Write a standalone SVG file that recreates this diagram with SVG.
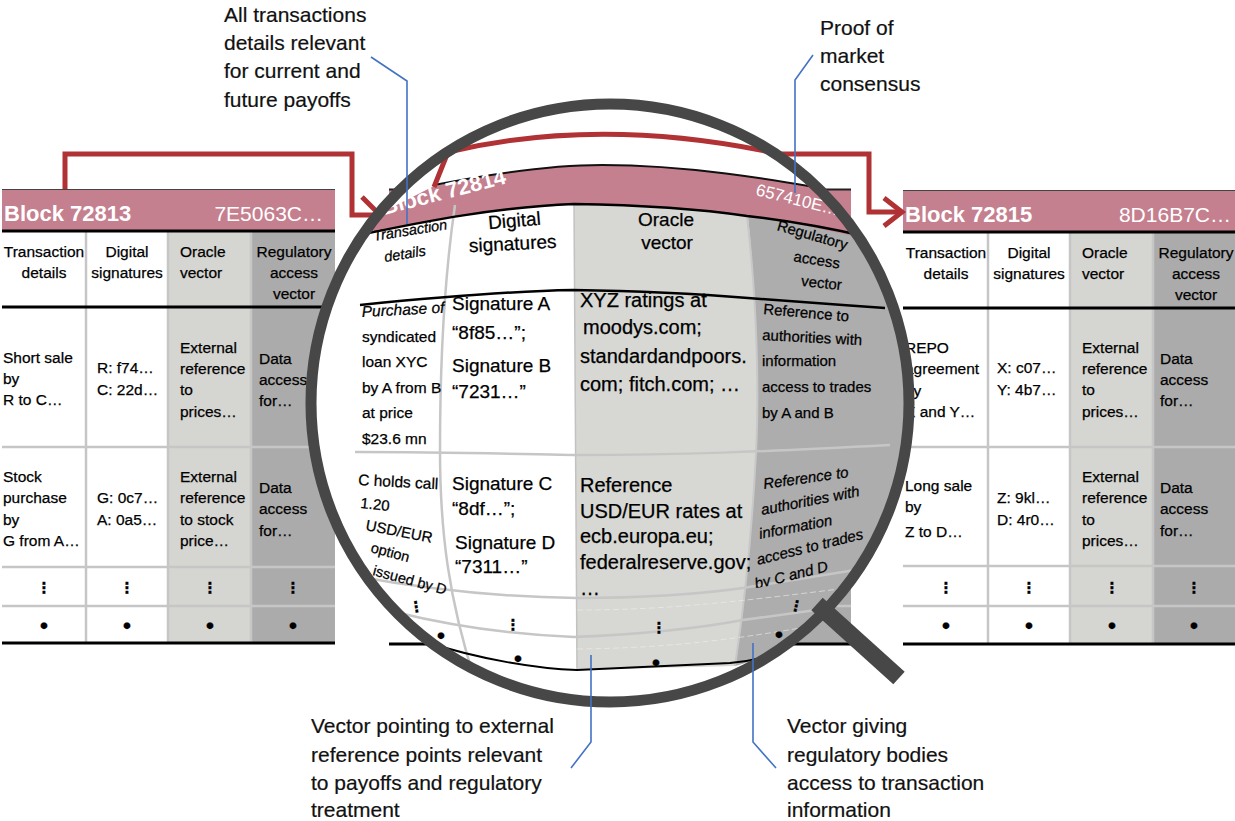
<svg xmlns="http://www.w3.org/2000/svg" width="1235" height="821" viewBox="0 0 1235 821">
<defs>
<style>
text{font-family:"Liberation Sans",Arial,sans-serif;fill:#000;stroke:#000;stroke-width:0.25px}
.tb{font-size:15.5px}
.m{text-anchor:middle}
.bh{font-size:22px;font-weight:bold;fill:#fff;stroke:none}
.bhr{font-size:21px;fill:#fff;text-anchor:end;stroke:none}
.wt{fill:#fff;stroke:none}
.dt{font-family:"DejaVu Sans",sans-serif;font-size:15px;text-anchor:middle;font-weight:bold}
.bu{font-size:24px;text-anchor:middle}
.an{font-size:21px;fill:#111;stroke:#111;stroke-width:0.2px}
.pink{fill:#C5808F}
.c3{fill:#D5D5D1}
.c4{fill:#ABABAB}
.gr{stroke:#C6C6C6;stroke-width:2.5;fill:none}
.bk{stroke:#000;stroke-width:3;fill:none}
.lead{stroke:#4472C4;stroke-width:1.6;fill:none}
.red{stroke:#B03234;stroke-width:5;fill:none}
.lt{font-size:15px}
.it{font-style:italic}
</style>
<clipPath id="lensClip"><circle cx="610" cy="403" r="296"/></clipPath>
<clipPath id="r2c4"><path d="M740,430 L900,430 L900,566 L743,590 Z"/></clipPath>
</defs>

<!-- Left block -->
<g id="block-72813">
<rect x="168" y="231" width="83" height="413" class="c3"/>
<rect x="251" y="231" width="84" height="413" class="c4"/>
<rect x="2" y="189" width="333" height="42" class="pink"/>
<line x1="2" y1="189.5" x2="335" y2="189.5" stroke="#444" stroke-width="1"/>
<g class="gr"><path d="M86,231V643M168,231V643M251,231V643"/><path d="M2,447H335M2,567H335M2,606H335"/></g>
<g class="bk"><path d="M2,231H335M2,307H335M2,643H335"/></g>
<text x="4" y="221" class="bh">Block 72813</text>
<text x="323" y="221" class="bhr">7E5063C…</text>
<text class="tb m" x="44" y="257">Transaction</text><text class="tb m" x="44" y="278">details</text>
<text class="tb m" x="127" y="257">Digital</text><text class="tb m" x="127" y="278">signatures</text>
<text class="tb" x="180" y="257">Oracle</text><text class="tb" x="180" y="278">vector</text>
<text class="tb m" x="294" y="257">Regulatory</text><text class="tb m" x="294" y="278">access</text><text class="tb m" x="294" y="299">vector</text>
<text class="tb" x="3" y="363">Short sale</text><text class="tb" x="3" y="384">by</text><text class="tb" x="3" y="405">R to C…</text>
<text class="tb" x="97" y="373">R: f74…</text><text class="tb" x="97" y="395">C: 22d…</text>
<text class="tb" x="180" y="353">External</text><text class="tb" x="180" y="374">reference</text><text class="tb" x="180" y="395">to</text><text class="tb" x="180" y="417">prices…</text>
<text class="tb" x="259" y="364">Data</text><text class="tb" x="259" y="385">access</text><text class="tb" x="259" y="406">for…</text>
<text class="tb" x="3" y="482">Stock</text><text class="tb" x="3" y="503">purchase</text><text class="tb" x="3" y="525">by</text><text class="tb" x="3" y="546">G from A…</text>
<text class="tb" x="97" y="503">G: 0c7…</text><text class="tb" x="97" y="525">A: 0a5…</text>
<text class="tb" x="180" y="482">External</text><text class="tb" x="180" y="503">reference</text><text class="tb" x="180" y="525">to stock</text><text class="tb" x="180" y="546">price…</text>
<text class="tb" x="259" y="493">Data</text><text class="tb" x="259" y="514">access</text><text class="tb" x="259" y="536">for…</text>
<text class="dt" x="44" y="593">⋮</text><text class="dt" x="127" y="593">⋮</text><text class="dt" x="210" y="593">⋮</text><text class="dt" x="293" y="593">⋮</text>
<text class="bu" x="44" y="634">•</text><text class="bu" x="127" y="634">•</text><text class="bu" x="210" y="634">•</text><text class="bu" x="293" y="634">•</text>
</g>

<!-- Right block -->
<g id="block-72815">
<rect x="1070" y="232" width="83" height="412" class="c3"/>
<rect x="1153" y="232" width="82" height="412" class="c4"/>
<rect x="903" y="190" width="332" height="42" class="pink"/>
<line x1="903" y1="190.5" x2="1235" y2="190.5" stroke="#444" stroke-width="1"/>
<g class="gr"><path d="M988,232V644M1070,232V644M1153,232V644"/><path d="M903,447H1235M903,566H1235M903,606H1235"/></g>
<g class="bk"><path d="M903,232H1235M903,308H1235M903,644H1235"/></g>
<text x="905" y="222" class="bh">Block 72815</text>
<text x="1231" y="222" class="bhr">8D16B7C…</text>
<text class="tb m" x="946" y="258">Transaction</text><text class="tb m" x="946" y="279">details</text>
<text class="tb m" x="1029" y="258">Digital</text><text class="tb m" x="1029" y="279">signatures</text>
<text class="tb" x="1082" y="258">Oracle</text><text class="tb" x="1082" y="279">vector</text>
<text class="tb m" x="1196" y="258">Regulatory</text><text class="tb m" x="1196" y="279">access</text><text class="tb m" x="1196" y="300">vector</text>
<text class="tb" x="905" y="353">REPO</text><text class="tb" x="905" y="374">agreement</text><text class="tb" x="905" y="396">by</text><text class="tb" x="905" y="417">X and Y…</text>
<text class="tb" x="997" y="373">X: c07…</text><text class="tb" x="997" y="395">Y: 4b7…</text>
<text class="tb" x="1082" y="353">External</text><text class="tb" x="1082" y="374">reference</text><text class="tb" x="1082" y="395">to</text><text class="tb" x="1082" y="417">prices…</text>
<text class="tb" x="1160" y="364">Data</text><text class="tb" x="1160" y="385">access</text><text class="tb" x="1160" y="406">for…</text>
<text class="tb" x="905" y="491">Long sale</text><text class="tb" x="905" y="512">by</text><text class="tb" x="905" y="537">Z to D…</text>
<text class="tb" x="997" y="503">Z: 9kl…</text><text class="tb" x="997" y="525">D: 4r0…</text>
<text class="tb" x="1082" y="482">External</text><text class="tb" x="1082" y="503">reference</text><text class="tb" x="1082" y="525">to</text><text class="tb" x="1082" y="546">prices…</text>
<text class="tb" x="1160" y="493">Data</text><text class="tb" x="1160" y="514">access</text><text class="tb" x="1160" y="536">for…</text>
<text class="dt" x="946" y="593">⋮</text><text class="dt" x="1029" y="593">⋮</text><text class="dt" x="1112" y="593">⋮</text><text class="dt" x="1194" y="593">⋮</text>
<text class="bu" x="946" y="634">•</text><text class="bu" x="1029" y="634">•</text><text class="bu" x="1112" y="634">•</text><text class="bu" x="1194" y="634">•</text>
</g>

<!-- Middle block (underlying, mostly covered by lens) -->
<g id="block-72814">
<rect x="768" y="232" width="83" height="412" class="c4"/>
<rect x="389" y="189" width="462" height="43" class="pink"/>
<line x1="389" y1="189.5" x2="851" y2="189.5" stroke="#222" stroke-width="2"/>
<g class="gr"><path d="M389,567H851M389,606H851"/></g>
<g class="bk"><path d="M389,232H851M389,307H851M389,644H851"/></g>
</g>

<!-- Connectors -->
<g id="connectors">
<path class="red" d="M65,189V154H352V215H380"/>
<path class="red" d="M362,197L380,215L362,233"/>
<path class="red" d="M764,154H869V212H899"/>
<path class="red" d="M884,198L902,212L884,226"/>
</g>

<!-- Magnifier -->
<g id="magnifier">
<circle cx="610" cy="403" r="297" fill="#fff"/>
<g clip-path="url(#lensClip)">
<path d="M574,195 C640,196 700,200 747,207 C757,300 760,400 755,470 C750,560 742,620 735,666 L577,670 Z" fill="#D7D7D3"/>
<path d="M747,207 C800,212 850,222 920,238 L920,640 L800,645 C770,655 750,662 735,666 C742,620 750,560 755,470 C760,400 757,300 747,207 Z" fill="#ADADAD"/>
<path class="pink" d="M355,226 L434,186 C500,172 560,165 602,165 C680,165 760,176 885,200 L885,243 C820,228 780,221 747,216 C700,209 640,205 574,204 C500,207 430,220 355,236 Z"/>
<path d="M434,185 C500,172 560,165 602,165 C680,165 760,176 885,200" stroke="#111" stroke-width="2" fill="none"/>
<path class="red" d="M434,187 L448,152 Q600,116 775,153"/>
<path class="gr" d="M455,205 C444,280 440,360 440,450 C440,530 448,600 478,690"/>
<path d="M574,204 L577,670" stroke="#C2C2C2" stroke-width="1.5"/>
<path d="M747,216 C757,300 760,400 755,470 C750,560 742,620 735,666" stroke="#C8C8C8" stroke-width="2" fill="none"/>
<path class="gr" d="M355,452 C450,452 520,454 575,455 C680,455 760,452 890,445"/>
<path class="gr" d="M355,576 C430,590 500,597 577,598 C650,598 700,594 743,588 L880,566"/>
<path class="gr" d="M395,612 C460,628 520,635 574,637 C650,634 700,628 743,620 L845,606"/>
<path d="M577,610 C660,610 720,604 855,587 M577,649 C660,648 720,642 818,625" stroke="#EEEEEE" stroke-opacity="0.6" stroke-width="1" stroke-dasharray="6 3" fill="none"/>
<path d="M355,236 C430,220 500,207 574,204 C640,205 700,209 747,216 C800,222 840,230 885,241" stroke="#000" stroke-width="2.5" fill="none"/>
<path d="M360,305 C450,296 520,291 573,290 C640,291 700,294 748,298 C800,302 840,305 885,308" stroke="#000" stroke-width="2.5" fill="none"/>
<path d="M420,640 C480,660 540,669 577,670 L730,663 C760,660 780,654 805,644" stroke="#000" stroke-width="2" fill="none"/>
<text class="bh" font-size="21.5" transform="translate(384,215) rotate(-14.5)">Block 72814</text>
<text class="wt" font-size="17" transform="translate(755,195) rotate(14)">657410E…</text>
<text class="it" font-size="14.5" transform="translate(374,241) rotate(-9)">Transaction</text>
<text class="it" font-size="14.5" transform="translate(385,262) rotate(-9)">details</text>
<text class="m" font-size="19" transform="translate(515,227) rotate(-5)">Digital</text>
<text class="m" font-size="19" transform="translate(513,250) rotate(-3)">signatures</text>
<text class="m" font-size="19" x="666" y="226">Oracle</text>
<text class="m" font-size="19" x="667" y="249">vector</text>
<text class="m lt" transform="translate(811,240) rotate(16)">Regulatory</text>
<text class="m lt" transform="translate(816,265) rotate(9)">access</text>
<text class="m lt" transform="translate(821,288) rotate(6)">vector</text>
<text class="it" font-size="15.5" transform="translate(362,317) rotate(-3)">Purchase of</text>
<text font-size="15.5" x="362" y="342">syndicated</text>
<text font-size="15.5" x="362" y="367">loan XYC</text>
<text font-size="15.5" x="362" y="393">by A from B</text>
<text font-size="15.5" x="362" y="418">at price</text>
<text font-size="15.5" x="362" y="444">$23.6 mn</text>
<text font-size="19" x="452" y="310">Signature A</text>
<text font-size="19" x="452" y="339">“8f85…”;</text>
<text font-size="19" x="452" y="372">Signature B</text>
<text font-size="19" x="452" y="398">“7231…”</text>
<text font-size="20" x="580" y="307">XYZ ratings at</text>
<text font-size="20" x="583" y="334">moodys.com;</text>
<text font-size="20" x="580" y="363">standardandpoors.</text>
<text font-size="20" x="580" y="391">com; fitch.com; …</text>
<text class="lt" transform="translate(763,314) rotate(5)">Reference to</text>
<text class="lt" transform="translate(762,340) rotate(3)">authorities with</text>
<text class="lt" x="762" y="366">information</text>
<text class="lt" x="762" y="392">access to trades</text>
<text class="lt" x="762" y="418">by A and B</text>
<text font-size="15.5" transform="translate(358,485) rotate(3)">C holds call</text>
<text font-size="15" transform="translate(360,508) rotate(6)">1.20</text>
<text font-size="15" transform="translate(365,530) rotate(11)">USD/EUR</text>
<text font-size="14.5" transform="translate(370,552) rotate(15)">option</text>
<text font-size="14.5" transform="translate(372,575) rotate(15)">issued by D</text>
<text font-size="19" x="452" y="490">Signature C</text>
<text font-size="19" x="452" y="515">“8df…”;</text>
<text font-size="19" x="455" y="549">Signature D</text>
<text font-size="19" x="455" y="573">“7311…”</text>
<text font-size="20" x="580" y="492">Reference</text>
<text font-size="20" x="580" y="518">USD/EUR rates at</text>
<text font-size="20" x="580" y="543">ecb.europa.eu;</text>
<text font-size="20" x="580" y="569">federalreserve.gov;</text>
<text font-size="20" x="580" y="595">…</text>
<g clip-path="url(#r2c4)">
<text class="lt it" transform="translate(764,489) rotate(-8)">Reference to</text>
<text class="lt it" transform="translate(762,515) rotate(-11)">authorities with</text>
<text class="lt it" transform="translate(760,539) rotate(-11)">information</text>
<text class="lt it" transform="translate(758,565) rotate(-14)">access to trades</text>
<text class="lt it" transform="translate(756,589) rotate(-14)">by C and D</text>
</g>
<text class="dt" font-size="12" transform="translate(417,612) rotate(-8)">⋮</text>
<text class="dt" x="513" y="630">⋮</text>
<text class="dt" x="659" y="633">⋮</text>
<text class="dt" font-size="12" transform="translate(795,611) rotate(12)">⋮</text>
<text class="bu" font-size="20" x="441" y="644">•</text>
<text class="bu" font-size="22" x="518" y="667">•</text>
<text class="bu" font-size="22" x="656" y="671">•</text>
<text class="bu" font-size="20" x="779" y="643">•</text>
</g>
<circle cx="610" cy="403" r="299" fill="none" stroke="#474747" stroke-width="11"/>
<line x1="817" y1="604" x2="899" y2="678" stroke="#474747" stroke-width="17"/>
</g>

<!-- Annotations -->
<g id="annotations">
<path class="lead" d="M371,57 L407,81 L407,224"/>
<path class="lead" d="M813,55 L795,80 L795,193"/>
<path class="lead" d="M571,768 L591,742 L591,655"/>
<path class="lead" d="M776,768 L753,742 L753,643"/>
<text class="an" x="224" y="22">All transactions</text>
<text class="an" x="224" y="50">details relevant</text>
<text class="an" x="224" y="78">for current and</text>
<text class="an" x="224" y="107">future payoffs</text>
<text class="an" x="820" y="35">Proof of</text>
<text class="an" x="820" y="63">market</text>
<text class="an" x="820" y="91">consensus</text>
<text class="an" x="311" y="733">Vector pointing to external</text>
<text class="an" x="311" y="762">reference points relevant</text>
<text class="an" x="311" y="790">to payoffs and regulatory</text>
<text class="an" x="311" y="817">treatment</text>
<text class="an" x="787" y="733">Vector giving</text>
<text class="an" x="787" y="762">regulatory bodies</text>
<text class="an" x="787" y="790">access to transaction</text>
<text class="an" x="787" y="817">information</text>
</g>
</svg>
